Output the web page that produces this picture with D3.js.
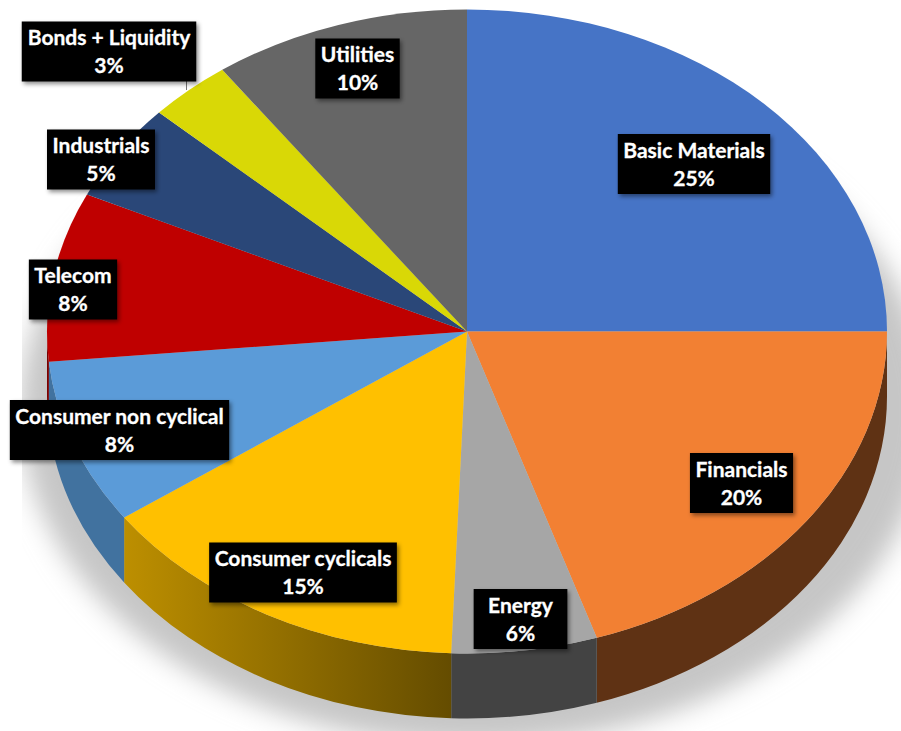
<!DOCTYPE html>
<html><head><meta charset="utf-8">
<style>html,body{margin:0;padding:0;background:#fff;overflow:hidden}svg{display:block}</style>
<script src="https://cdn.jsdelivr.net/npm/d3@7/dist/d3.min.js"></script>
</head><body>
<svg id="c" width="901" height="731"></svg>
<script>
const categories = ["Basic Materials","Financials","Energy","Consumer cyclicals","Consumer non cyclical","Telecom","Industrials","Bonds + Liquidity","Utilities"];
const values = [25,20,5.6,14.6,8.3,8.5,4.9,3.2,9.9];
const percentLabels = ["25%","20%","6%","15%","8%","8%","5%","3%","10%"];
const topColors = ["#4674c6","#f28033","#a6a6a6","#ffc000","#5b9bd8","#bf0000","#2a4778","#d9d806","#666666"];
const wallColors = ["#2a4576","#5f3214","#434343","url(#goldWall)","#41729f","#7a0000","#1a2c4a","#828200","#3d3d3d"];
const labelCenters = [[694,164],[741.5,483],[520.5,619],[303,572.5],[119.5,430],[73,289.5],[101,159.5],[109,51.5],[357.5,68.5]];
const labelPadding = [11,11,28,11,11,11,11,11,11];

const cx=467, cy=331.5, rx=420, ry=322, depth=65;
const yScale = ry/rx;
const svg = d3.select("#c");
const defs = svg.append("defs");
const blur = defs.append("filter").attr("id","soft").attr("x","-20%").attr("y","-20%").attr("width","140%").attr("height","140%");
blur.append("feGaussianBlur").attr("stdDeviation",13);
const ds = defs.append("filter").attr("id","boxShadow").attr("x","-20%").attr("y","-20%").attr("width","140%").attr("height","140%");
ds.append("feDropShadow").attr("dx",2).attr("dy",2.5).attr("stdDeviation",2).attr("flood-color","#000").attr("flood-opacity",0.45);
const gold = defs.append("linearGradient").attr("id","goldWall").attr("gradientUnits","userSpaceOnUse")
  .attr("x1",-343).attr("x2",-15).attr("y1",0).attr("y2",0);
gold.append("stop").attr("offset",0).attr("stop-color","#bd8f00");
gold.append("stop").attr("offset",1).attr("stop-color","#644c00");
defs.append("clipPath").attr("id","shadowClip").append("rect").attr("x",22).attr("y",0).attr("width",879).attr("height",731);

const pie = d3.pie().sort(null).value(d=>d)(values);
const arc = d3.arc().innerRadius(0).outerRadius(rx);

// cast shadow
svg.append("g").attr("clip-path","url(#shadowClip)")
  .append("ellipse").attr("cx",475).attr("cy",410).attr("rx",455).attr("ry",335)
  .attr("fill","#c6c6c6").attr("filter","url(#soft)");

const g = svg.append("g").attr("transform",`translate(${cx},${cy}) scale(1,${yScale})`);

// side walls for the part of each slice on the near half of the ellipse
const wallDepth = depth/yScale;
function wallPath(a0,a1){
  const s=Math.max(a0,Math.PI/2), e=Math.min(a1,Math.PI*1.5);
  if(e<=s) return null;
  const p=d3.path(), t=a=>a-Math.PI/2;
  p.arc(0,0,rx,t(s),t(e),false);
  p.lineTo(rx*Math.cos(t(e)),rx*Math.sin(t(e))+wallDepth);
  p.arc(0,wallDepth,rx,t(e),t(s),true);
  p.closePath();
  return p.toString();
}
g.selectAll("path.wall").data(pie).join("path").attr("class","wall")
  .attr("d",d=>wallPath(d.startAngle,d.endAngle))
  .attr("fill",d=>wallColors[d.index]);
g.selectAll("path.top").data(pie).join("path").attr("class","top")
  .attr("d",arc).attr("fill",d=>topColors[d.index]);

// leader line of the bonds label
svg.append("line").attr("x1",186.5).attr("x2",186.5).attr("y1",81).attr("y2",90).attr("stroke","#777").attr("stroke-width",1);

const labels = svg.selectAll("g.label").data(categories).join("g").attr("class","label")
  .attr("transform",(d,i)=>`translate(${labelCenters[i][0]},${labelCenters[i][1]})`);
const rects = labels.append("rect").attr("fill","#000").attr("filter","url(#boxShadow)");
const txt = labels.append("text").attr("text-anchor","middle")
  .attr("font-family","Lato, 'Open Sans', sans-serif").attr("font-weight",700).attr("font-size",21)
  .attr("fill","#fff").attr("stroke","#fff").attr("stroke-width",0.3);
txt.append("tspan").attr("x",0).attr("y",-6.5).text(d=>d);
txt.append("tspan").attr("x",0).attr("y",21.5).text((d,i)=>percentLabels[i]);
rects.each(function(d,i){
  const b=this.parentNode.querySelector("text").getBBox();
  const w=b.width+labelPadding[i], h=60;
  d3.select(this).attr("x",-w/2).attr("y",-h/2).attr("width",w).attr("height",h);
});
</script>
</body></html>
